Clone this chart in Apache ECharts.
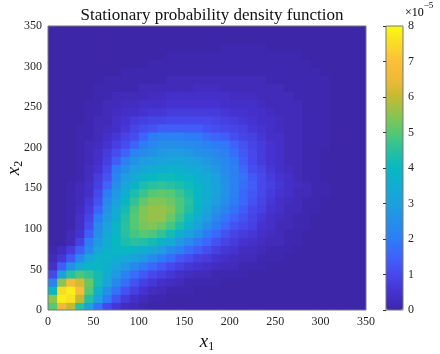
<!DOCTYPE html>
<html>
<head>
<meta charset="utf-8">
<style>
  html, body { margin: 0; padding: 0; background: #fff; }
  #chart { width: 440px; height: 354px; }
</style>
<script src="https://cdn.jsdelivr.net/npm/echarts@6/dist/echarts.min.js"></script>
</head>
<body>
<div id="chart"></div>
<script>
// bin centres shared by x1 and x2 (bins 10 wide over 0..350)
const binCentres = [5, 15, 25, 35, 45, 55, 65, 75, 85, 95, 105, 115, 125, 135, 145, 155, 165, 175,
  185, 195, 205, 215, 225, 235, 245, 255, 265, 275, 285, 295, 305, 315, 325, 335, 345]
const binWidth = 10

// density, in units of 1e-6
// one row per x2 bin (bottom row first), x1 left to right; dark cells at the end of a row are left out
const densityRows = [
  [50, 65, 60, 45, 30, 18, 10, 6, 3, 2, 1],
  [55, 78, 76, 60, 44, 30, 20, 12, 7, 4, 2, 1, 1],
  [40, 75, 78, 68, 50, 37, 26, 18, 12, 8, 5, 3, 2, 1, 1, 1],
  [22, 55, 66, 62, 52, 42, 32, 23, 17, 12, 8, 6, 4, 3, 2, 1, 1, 1, 1],
  [10, 30, 45, 49, 46, 42, 35, 28, 22, 17, 13, 10, 8, 6, 4, 3, 2, 2, 1, 1, 1, 1],
  [4, 14, 26, 35, 39, 39, 36, 32, 28, 23, 19, 16, 13, 10, 8, 6, 5, 4, 3, 2, 2, 1, 1, 1],
  [2, 6, 13, 23, 32, 37, 38, 36, 34, 31, 28, 24, 20, 17, 13, 11, 8, 7, 5, 4, 3, 2, 2, 1, 1, 1],
  [1, 3, 7, 14, 23, 32, 37, 39, 40, 38, 36, 33, 29, 24, 21, 17, 14, 11, 8, 6, 5, 3, 3, 2, 1, 1, 1],
  [0, 0, 2, 8, 20, 28, 35, 40, 43, 45, 44, 42, 38, 34, 28, 24, 19, 16, 12, 9, 7, 5, 4, 3, 2, 2, 1, 1],
  [0, 0, 2, 5, 14, 25, 33, 39, 45, 48, 50, 49, 46, 42, 36, 31, 26, 20, 16, 12, 9, 7, 6, 4, 3, 2, 1, 1],
  [0, 0, 1, 4, 11, 23, 31, 39, 45, 50, 53, 54, 52, 48, 43, 37, 31, 25, 20, 16, 12, 10, 8, 5, 4, 2, 2, 1, 1],
  [0, 0, 1, 4, 9, 20, 28, 36, 44, 50, 54, 56, 56, 52, 47, 41, 35, 29, 23, 19, 15, 12, 9, 6, 4, 3, 2, 1, 1],
  [0, 0, 1, 3, 7, 15, 26, 34, 42, 49, 54, 56, 56, 54, 49, 44, 38, 32, 26, 22, 18, 14, 10, 8, 5, 4, 2, 2, 1, 1],
  [0, 0, 1, 2, 6, 12, 23, 31, 39, 46, 51, 54, 54, 52, 49, 45, 39, 34, 29, 25, 20, 16, 12, 9, 6, 4, 3, 2, 1, 1],
  [0, 0, 1, 2, 4, 10, 20, 28, 36, 43, 47, 50, 51, 50, 47, 43, 39, 35, 31, 26, 21, 16, 13, 10, 7, 5, 4, 2, 2, 1, 1],
  [0, 0, 1, 2, 4, 8, 15, 25, 32, 38, 43, 45, 46, 45, 43, 41, 38, 35, 31, 26, 21, 17, 14, 10, 8, 6, 4, 3, 2, 1, 1],
  [0, 0, 0, 1, 3, 7, 12, 22, 29, 34, 38, 40, 41, 41, 40, 39, 36, 34, 30, 25, 21, 18, 13, 10, 7, 5, 4, 2, 1, 1],
  [0, 0, 0, 1, 3, 5, 10, 20, 25, 30, 33, 35, 36, 37, 37, 35, 34, 31, 28, 24, 21, 16, 11, 9, 6, 4, 3, 2, 1, 1],
  [0, 0, 0, 1, 2, 4, 8, 14, 21, 26, 29, 30, 32, 33, 33, 32, 30, 28, 25, 23, 20, 14, 10, 7, 5, 4, 2, 2, 1, 1],
  [0, 0, 0, 1, 2, 4, 7, 11, 15, 22, 24, 26, 28, 29, 29, 28, 26, 25, 23, 21, 17, 13, 10, 7, 5, 4, 2, 2, 1, 1],
  [0, 0, 0, 1, 2, 3, 5, 8, 11, 15, 20, 23, 25, 25, 25, 24, 23, 22, 20, 19, 15, 12, 9, 7, 5, 4, 2, 2, 1, 1, 1],
  [0, 0, 0, 1, 1, 2, 4, 6, 9, 11, 15, 20, 21, 21, 21, 20, 20, 17, 15, 14, 11, 9, 8, 6, 4, 4, 2, 2, 1, 1, 1],
  [0, 0, 0, 1, 1, 2, 3, 4, 6, 9, 11, 12, 14, 14, 14, 14, 14, 12, 11, 10, 9, 8, 6, 5, 4, 3, 2, 2, 1, 1, 1],
  [0, 0, 0, 0, 1, 2, 2, 4, 5, 7, 8, 9, 9, 10, 10, 10, 10, 10, 9, 8, 7, 6, 5, 4, 4, 3, 2, 2, 1, 1, 1],
  [0, 0, 0, 0, 1, 1, 2, 3, 4, 4, 5, 6, 6, 7, 7, 7, 7, 7, 7, 6, 5, 5, 4, 4, 3, 2, 2, 2, 1, 1, 1],
  [0, 0, 0, 0, 1, 1, 2, 2, 3, 3, 4, 4, 4, 5, 5, 5, 5, 5, 5, 4, 4, 4, 4, 3, 2, 2, 2, 2, 1, 1, 1],
  [0, 0, 0, 0, 0, 1, 1, 2, 2, 2, 2, 3, 3, 4, 4, 4, 4, 4, 4, 4, 3, 3, 3, 2, 2, 2, 2, 1, 1, 1, 1],
  [0, 0, 0, 0, 0, 1, 1, 1, 1, 1, 2, 2, 2, 2, 2, 2, 3, 3, 3, 2, 2, 2, 2, 2, 2, 2, 1, 1, 1, 1, 1],
  [0, 0, 0, 0, 0, 0, 1, 1, 1, 1, 1, 1, 1, 2, 2, 2, 2, 2, 2, 2, 2, 2, 2, 2, 1, 1, 1, 1, 1, 1, 1],
  [0, 0, 0, 0, 0, 0, 0, 0, 1, 1, 1, 1, 1, 1, 1, 1, 1, 1, 1, 1, 1, 1, 1, 1, 1, 1, 1, 1, 1, 1],
  [0, 0, 0, 0, 0, 0, 0, 0, 0, 0, 0, 1, 1, 1, 1, 1, 1, 1, 1, 1, 1, 1, 1, 1, 1, 1, 1, 1, 1],
  [0, 0, 0, 0, 0, 0, 0, 0, 0, 0, 0, 0, 0, 1, 1, 1, 1, 1, 1, 1, 1, 1, 1, 1, 1, 1, 1, 1],
  [0, 0, 0, 0, 0, 0, 0, 0, 0, 0, 0, 0, 0, 0, 0, 0, 0, 0, 0, 1, 1, 1, 1, 1],
  [],
  []
]

const axisMax = 350
const axisStep = 50
const colourMax = 8 // x 1e-5

// parula
const parula = ['#3e26a8', '#4532d0', '#4748ec', '#3f62fb', '#2c7df5', '#258fe8', '#1da0de', '#12acd2',
  '#08b8c0', '#28c0a0', '#55c873', '#8cc450', '#c3ba32', '#f0ba37', '#fcbe3a', '#f8dc28', '#f9fb0e']

const serif = "'Liberation Serif', 'DejaVu Serif', serif"
const ink = '#262626'

const cells = []
densityRows.forEach((row, j) => {
  binCentres.forEach((c, i) => {
    const v = i < row.length ? row[i] : 0
    cells.push([c, binCentres[j], v / 10])
  })
})

const chart = echarts.init(document.getElementById('chart'))

const subName = (sub) => ({
  name: '{v|x}{s|' + sub + '}',
  nameLocation: 'middle',
  nameMoveOverlap: false,
  nameTextStyle: {
    rich: {
      v: { fontFamily: serif, fontStyle: 'italic', fontSize: 19, color: '#111', lineHeight: 22 },
      s: { fontFamily: serif, fontSize: 12, color: '#111', verticalAlign: 'bottom', lineHeight: 14 }
    }
  }
})

const valueAxis = (pos) => ({
  type: 'value',
  gridIndex: 0,
  position: pos,
  min: 0,
  max: axisMax,
  interval: axisStep,
  axisLine: { show: false },
  axisTick: { show: false },
  splitLine: { show: false },
  axisLabel: { color: ink, fontFamily: serif, fontSize: 12, margin: 6 }
})

chart.setOption({
  animation: false,
  title: {
    text: 'Stationary probability density function',
    left: 207,
    textAlign: 'center',
    top: 2,
    textStyle: { fontFamily: serif, fontWeight: 'normal', fontSize: 17, color: '#111' }
  },
  grid: [
    { left: 48, top: 26, width: 318, height: 284, outerBoundsMode: 'none', containLabel: false, show: true, z: 5, backgroundColor: 'transparent', borderColor: '#777', borderWidth: 1 },
    { left: 386, top: 26, width: 17, height: 284, outerBoundsMode: 'none', containLabel: false, show: true, z: 10, backgroundColor: 'transparent', borderColor: '#777', borderWidth: 1 }
  ],
  xAxis: [
    Object.assign(valueAxis('bottom'), subName(1), { nameGap: 21 }),
    { type: 'value', gridIndex: 1, show: false, min: 0, max: 1 }
  ],
  yAxis: [
    Object.assign(valueAxis('left'), subName(2), { nameGap: 23 }),
    {
      type: 'value',
      gridIndex: 1,
      position: 'right',
      min: 0,
      max: colourMax,
      interval: 1,
      z: 10,
      axisLine: { show: false },
      axisTick: { show: true, inside: true, length: 3, lineStyle: { color: '#333' } },
      splitLine: { show: false },
      axisLabel: { color: ink, fontFamily: serif, fontSize: 12, margin: 5 }
    }
  ],
  visualMap: {
    type: 'continuous',
    min: 0,
    max: colourMax,
    seriesIndex: 0,
    dimension: 2,
    calculable: false,
    hoverLink: false,
    orient: 'vertical',
    left: 386,
    top: 26,
    padding: 0,
    itemWidth: 17,
    itemHeight: 284,
    inRange: { color: parula }
  },
  graphic: [
    {
      type: 'text',
      left: 405,
      top: 1,
      style: {
        text: '{a|×10}{b|−5}',
        rich: {
          a: { fontFamily: serif, fontSize: 12, color: ink, padding: [6, 0, 0, 0] },
          b: { fontFamily: serif, fontSize: 9, color: ink, verticalAlign: 'top' }
        }
      }
    }
  ],
  series: [{
    type: 'custom',
    xAxisIndex: 0,
    yAxisIndex: 0,
    clip: true,
    data: cells,
    renderItem (params, api) {
      const half = binWidth / 2
      const corner = api.coord([api.value(0) - half, api.value(1) + half])
      const size = api.size([binWidth, binWidth])
      // a pixel of overlap hides the seams between cells
      return {
        type: 'rect',
        shape: { x: corner[0], y: corner[1], width: size[0] + 1, height: size[1] + 1 },
        style: { fill: api.visual('color') }
      }
    }
  }]
})
</script>
</body>
</html>
